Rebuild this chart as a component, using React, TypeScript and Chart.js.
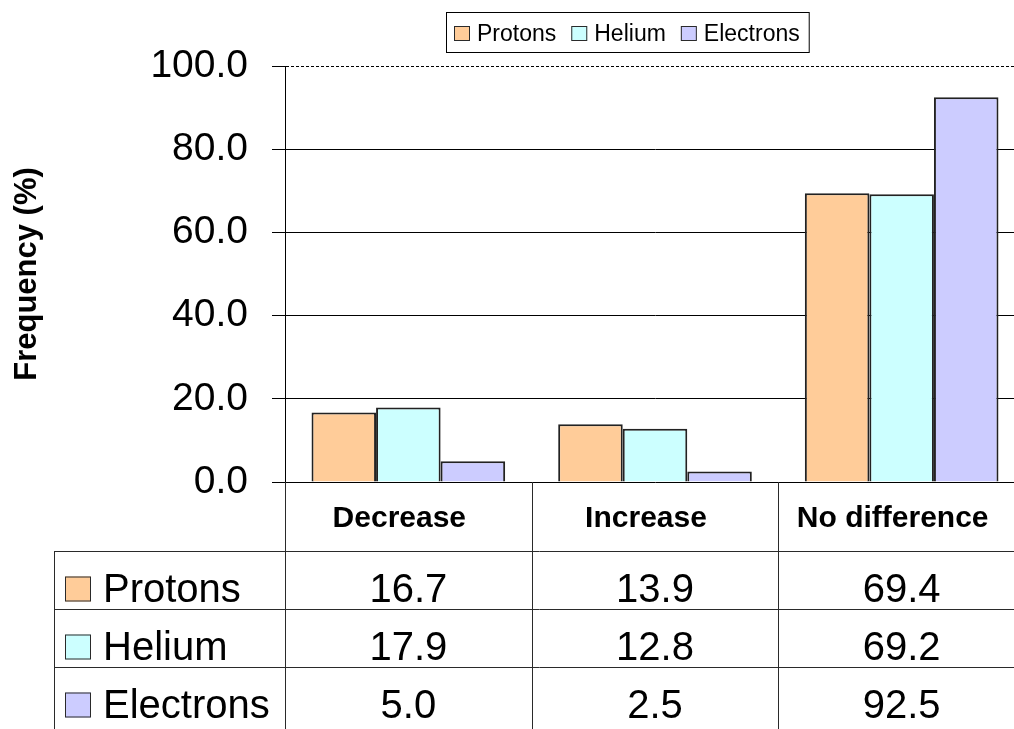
import React, { useEffect, useRef } from "react";
import { Chart, registerables } from "chart.js";

Chart.register(...registerables);

const categories = ["Decrease", "Increase", "No difference"];
const seriesNames = ["Protons", "Helium", "Electrons"];
const protons = [16.7, 13.9, 69.4];
const helium = [17.9, 12.8, 69.2];
const electrons = [5.0, 2.5, 92.5];
const seriesColors = ["#FFCC99", "#CCFFFF", "#CCCCFF"];
const yTicks = [0, 20, 40, 60, 80, 100];
const yTitle = "Frequency (%)";

const FONT = '"Liberation Sans", Arial, Helvetica, sans-serif';
const LINE = "#2a2a2a";

const tablePlugin = {
  id: "dataTableAndLegend",
  afterDraw(chart: any) {
    const { ctx, chartArea } = chart;
    const left = chartArea.left;
    const right = chartArea.right;
    const bottom = chartArea.bottom;
    const labels: string[] = chart.data.labels;
    const datasets = chart.data.datasets;
    const n = labels.length;
    const cw = (right - left) / n;
    const H = chart.height;
    const headerH = 69;
    const rowH = 58;
    const tableLeft = 54;

    ctx.save();
    ctx.strokeStyle = LINE;
    ctx.lineWidth = 1;
    ctx.beginPath();
    for (let i = 0; i <= n; i++) {
      const x = Math.round(left + i * cw) + 0.5;
      ctx.moveTo(x, bottom);
      ctx.lineTo(x, H);
    }
    for (let r = 0; r < datasets.length; r++) {
      const y = Math.round(bottom + headerH + r * rowH) + 0.5;
      ctx.moveTo(tableLeft, y);
      ctx.lineTo(right, y);
    }
    ctx.moveTo(tableLeft + 0.5, bottom + headerH);
    ctx.lineTo(tableLeft + 0.5, H);
    ctx.stroke();

    // header
    ctx.fillStyle = "#000";
    ctx.font = `bold 30px ${FONT}`;
    ctx.textAlign = "center";
    ctx.textBaseline = "middle";
    for (let i = 0; i < n; i++) {
      ctx.fillText(labels[i], left + (i + 0.5) * cw - 9, bottom + 37);
    }

    // rows
    datasets.forEach((ds: any, r: number) => {
      const yb = bottom + headerH + (r + 1) * rowH - 7.5;
      ctx.fillStyle = ds.backgroundColor;
      ctx.fillRect(65, yb - 25, 26, 25);
      ctx.strokeStyle = LINE;
      ctx.lineWidth = 1;
      ctx.strokeRect(65.5, yb - 24.5, 25, 24);
      ctx.fillStyle = "#000";
      ctx.font = `40px ${FONT}`;
      ctx.textAlign = "left";
      ctx.textBaseline = "alphabetic";
      ctx.fillText(ds.label, 103, yb);
      ctx.textAlign = "center";
      ds.data.forEach((v: number, i: number) => {
        ctx.fillText(v.toFixed(1), left + (i + 0.5) * cw, yb);
      });
    });

    // legend
    ctx.font = `23px ${FONT}`;
    ctx.textAlign = "left";
    ctx.textBaseline = "alphabetic";
    let x = 454;
    const base = 41;
    const items: any[] = [];
    datasets.forEach((ds: any) => {
      const w = ctx.measureText(ds.label).width;
      items.push({ x, w, ds });
      x += 16 + 7 + w + 15;
    });
    const boxRight = x - 15 + 9;
    ctx.fillStyle = "#fff";
    ctx.fillRect(446, 12, boxRight - 446, 40);
    ctx.strokeStyle = "#000";
    ctx.lineWidth = 1;
    ctx.strokeRect(446.5, 12.5, boxRight - 446, 40);
    items.forEach((it) => {
      ctx.fillStyle = it.ds.backgroundColor;
      ctx.fillRect(it.x, base - 15, 16, 15);
      ctx.strokeStyle = LINE;
      ctx.strokeRect(it.x + 0.5, base - 14.5, 15, 14);
      ctx.fillStyle = "#000";
      ctx.fillText(it.ds.label, it.x + 16 + 7, base);
    });
    ctx.restore();
  },
};

export default function App() {
  const ref = useRef<HTMLCanvasElement | null>(null);

  useEffect(() => {
    if (!ref.current) return;
    const seriesValues = [protons, helium, electrons];
    const chart = new Chart(ref.current, {
      type: "bar",
      data: {
        labels: categories,
        datasets: seriesNames.map((name, i) => ({
          label: name,
          data: seriesValues[i],
          backgroundColor: seriesColors[i],
          borderColor: "#222",
          borderWidth: 2,
          categoryPercentage: 0.785,
          barPercentage: 1.0,
        })),
      },
      options: {
        animation: false,
        responsive: false,
        devicePixelRatio: 1,
        layout: { padding: { left: 0, right: 15, top: 66, bottom: 247 } },
        plugins: {
          legend: { display: false },
          tooltip: { enabled: false },
          title: { display: false },
        },
        scales: {
          x: { display: false },
          y: {
            min: 0,
            max: 100,
            afterFit: (s: any) => {
              s.width = 285;
            },
            afterBuildTicks: (s: any) => {
              s.ticks = yTicks.map((v) => ({ value: v }));
            },
            ticks: {
              callback: (v: any) => Number(v).toFixed(1),
              font: { family: FONT, size: 39 },
              color: "#000",
              padding: 24,
            },
            grid: {
              color: "#000",
              lineWidth: 1,
              tickLength: 13,
              tickColor: "#000",
            },
            border: {
              display: true,
              color: "#000",
              width: 1,
              dash: (c: any) => (c.tick && c.tick.value === 100 ? [3, 2] : []),
            },
            title: {
              display: true,
              text: yTitle,
              font: { family: FONT, size: 31, weight: "bold" },
              color: "#000",
              padding: { top: 9, bottom: 0 },
            },
          },
        },
      },
      plugins: [tablePlugin],
    } as any);
    return () => chart.destroy();
  }, []);

  return (
    <div
      style={{
        position: "fixed",
        left: 0,
        top: 0,
        width: 1014,
        height: 729,
        overflow: "hidden",
        background: "#fff",
      }}
    >
      <canvas
        ref={ref}
        width={1040}
        height={729}
        style={{ display: "block", width: 1040, height: 729 }}
      />
    </div>
  );
}
